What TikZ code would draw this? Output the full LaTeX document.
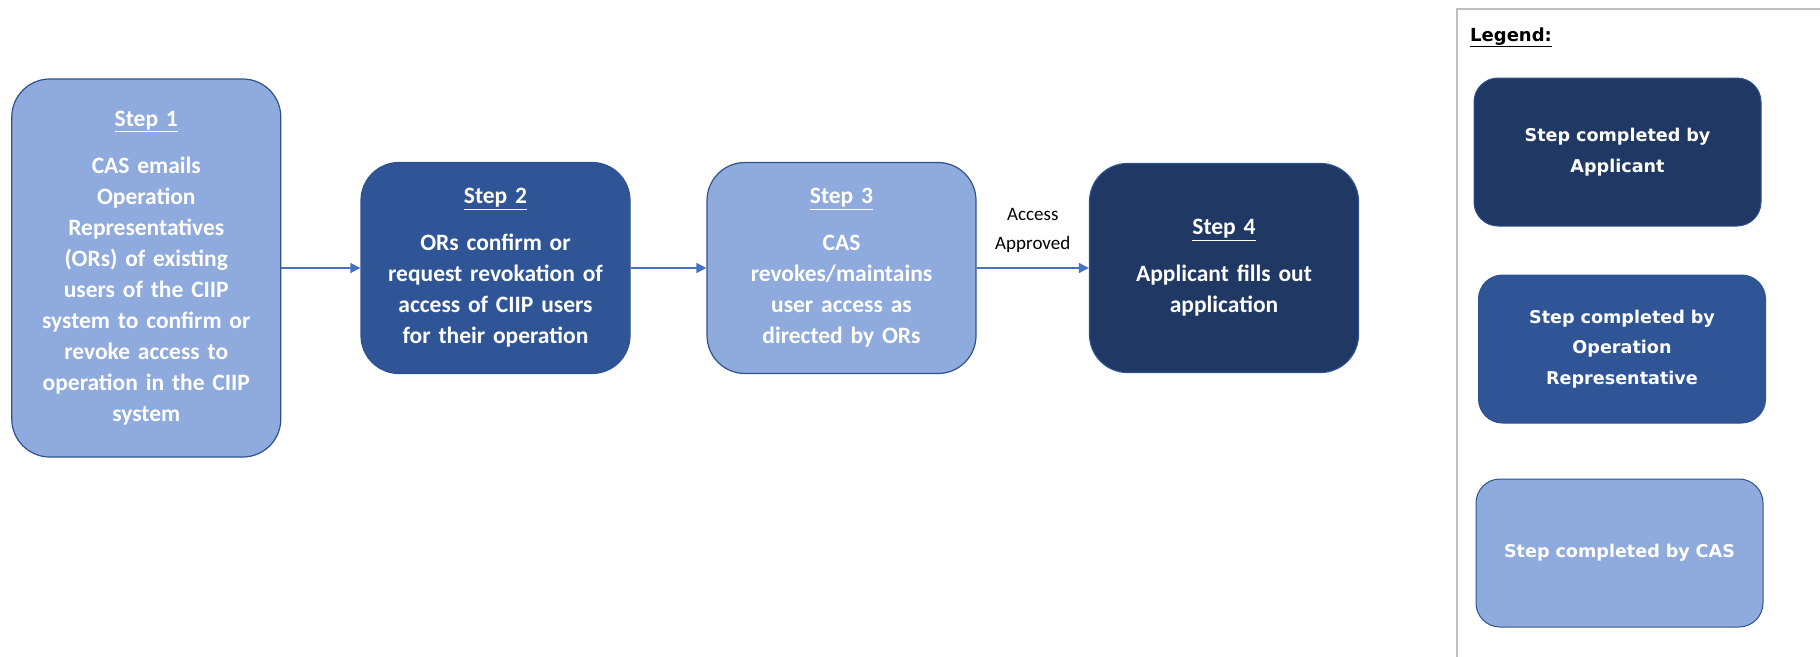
\documentclass[tikz,border=0pt]{standalone}
\usepackage{fontspec}
\setmainfont{Carlito}
\newfontfamily\legendfont{DejaVu Sans}
\usetikzlibrary{arrows.meta}
\definecolor{casblue}{HTML}{8FAADC}
\definecolor{orblue}{HTML}{2F5597}
\definecolor{appblue}{HTML}{203864}
\definecolor{edgeblue}{HTML}{2F528F}
\definecolor{flowblue}{HTML}{4472C4}
\definecolor{framegray}{HTML}{BFBFBF}

\begin{document}
\begin{tikzpicture}[x=1pt, y=-1pt, stepbox/.style = {rectangle, draw=edgeblue, line width=1.2pt, text=white, text width=250pt, align=center, rounded corners=38pt, minimum width=269pt, font={\fontsize{23.5}{31}\selectfont\bfseries}}, legbox/.style = {rectangle, draw=edgeblue, line width=1pt, text=white, text width=270pt, align=center, rounded corners=24pt, minimum width=287pt, minimum height=148pt, font={\legendfont\fontsize{17.6}{30.5}\selectfont\bfseries}}, flow/.style = {-{Triangle[length=10pt, width=10pt]}, draw=flowblue, line width=1.5pt}]
        \useasboundingbox (0, 0) rectangle (1820, 656);
        % legend frame, cut off at the page edge
        \begin{scope}
          \clip (0, 0) rectangle (1820, 656);
          \draw[framegray, line width=1.5pt] (1457, 9) rectangle (1840, 680);
        \end{scope}

        \draw (146.3, 268) node[stepbox, fill=casblue, minimum height=378pt] (s1) {\underline{Step 1}\\[16pt] CAS emails\\ Operation\\ Representatives\\ (ORs) of existing\\ users of the CIIP\\ system to confirm or\\ revoke access to\\ operation in the CIIP\\ system};
        \draw (495.5, 268) node[stepbox, fill=orblue, minimum height=211pt] (s2) {\underline{Step 2}\\[16pt] ORs confirm or\\ request revokation of\\ access of CIIP users\\ for their operation};
        \draw (841.5, 268) node[stepbox, fill=casblue, minimum height=211pt] (s3) {\underline{Step 3}\\[16pt] CAS\\ revokes/maintains\\ user access as\\ directed by ORs};
        \draw (1224, 268) node[stepbox, fill=appblue, minimum height=209pt] (s4) {\underline{Step 4}\\[16pt] Applicant fills out\\ application};

        \draw[flow] (s1) -- (s2);
        \draw[flow] (s2) -- (s3);
        \draw[flow] (s3) -- node[above=15pt, inner sep=0pt, align=center, text=black, font={\fontsize{19}{29}\selectfont}] (ok) {Access\\ Approved} (s4);

        % legend
        \draw (1470, 41) node[anchor=base west, inner sep=0pt, font={\legendfont\fontsize{18}{22}\selectfont\bfseries}] (legend) {\underline{Legend:}};
        \draw (1617.5, 152) node[legbox, fill=appblue] (leg1) {Step completed by\\ Applicant};
        \draw (1622, 349) node[legbox, fill=orblue] (leg2) {Step completed by\\ Operation\\ Representative};
        \draw (1619.5, 553) node[legbox, fill=casblue] (leg3) {Step completed by CAS};
      \end{tikzpicture}
\end{document}
